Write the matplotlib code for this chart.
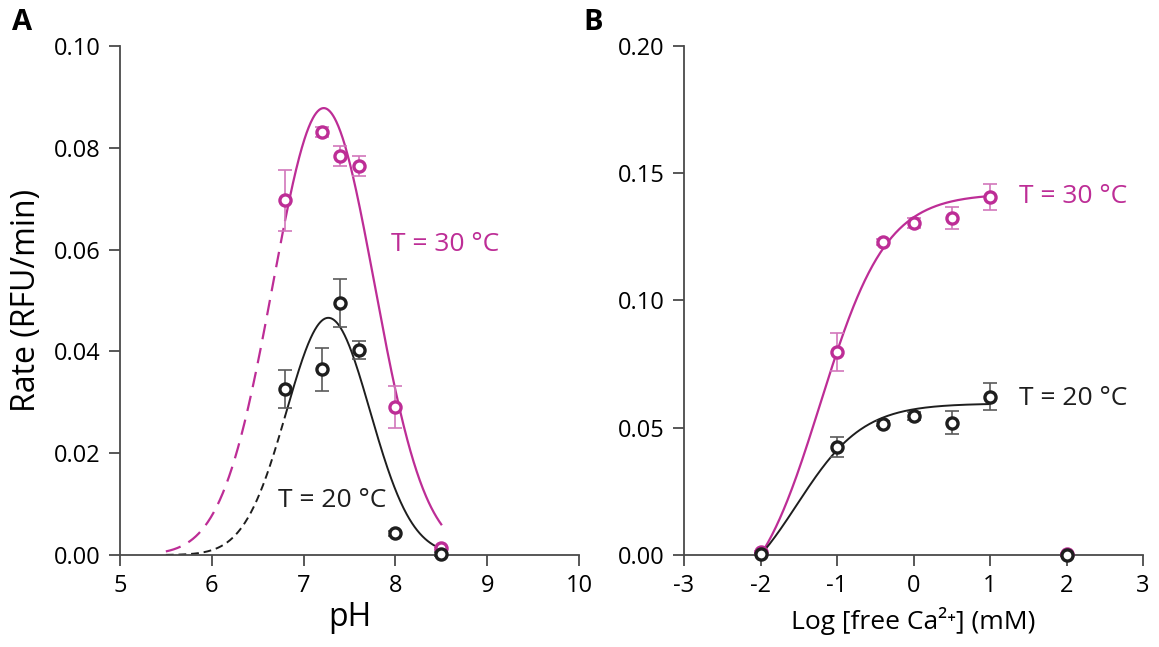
import numpy as np
import matplotlib.pyplot as plt

plt.rcParams['font.family'] = ['Open Sans', 'DejaVu Sans']
plt.rcParams['axes.unicode_minus'] = False

MAG = '#bd2d96'
MAG_ERR = '#d277bb'
BLK = '#1e1e1e'
BLK_ERR = '#5a5a5a'

# Panel A: rate vs pH
ph = [6.8, 7.2, 7.4, 7.6, 8.0, 8.5]
rate30_ph = [0.0697, 0.0831, 0.0784, 0.0764, 0.0291, 0.0013]
err30_ph = [0.0060, 0.0010, 0.0020, 0.0020, 0.0042, 0.0003]
rate20_ph = [0.0326, 0.0365, 0.0495, 0.0403, 0.0043, 0.0002]
err20_ph = [0.0037, 0.0042, 0.0047, 0.0017, 0.0005, 0.0003]

# gaussian fit parameters (amplitude, centre, width)
fit30_ph = (0.0878, 7.22, 0.553)
fit20_ph = (0.0466, 7.27, 0.455)
fit_ph_range = (5.5, 6.8, 8.5)  # dashed start, solid start, end

# Panel B: rate vs log [free Ca2+]
logca = [-2, -1, -0.4, 0, 0.5, 1, 2]
rate30_ca = [0.0010, 0.0798, 0.1230, 0.1304, 0.1324, 0.1407, 0.0005]
err30_ca = [0.0005, 0.0075, 0.0010, 0.0020, 0.0042, 0.0052, 0.0003]
rate20_ca = [0.0005, 0.0424, 0.0515, 0.0545, 0.0520, 0.0622, 0.0]
err20_ca = [0.0003, 0.0040, 0.0010, 0.0015, 0.0045, 0.0052, 0.0003]

# saturation fit parameters (vmax, K in mM), baseline at 10^-2 mM
fit30_ca = (0.1657, 0.06)
fit20_ca = (0.0794, 0.03)
fit_ca_range = (-2, 1)


def gauss(x, p):
    a, c, s = p
    return a * np.exp(-(x - c) ** 2 / (2 * s ** 2))


def sat(x, p):
    v, k = p
    c = 10.0 ** x
    c0 = 10.0 ** fit_ca_range[0]
    return v * (c / (k + c) - c0 / (k + c0))


def style_axes(ax):
    for s in ['top', 'right']:
        ax.spines[s].set_visible(False)
    for s in ['left', 'bottom']:
        ax.spines[s].set_color('#4a4a4a')
        ax.spines[s].set_linewidth(1.3)
    ax.tick_params(direction='out', length=8, width=1.3, color='#4a4a4a',
                   labelsize=17, pad=6)


def points(ax, x, y, e, col, ecol):
    ax.errorbar(x, y, yerr=e, fmt='none', ecolor=ecol, elinewidth=1.2,
                capsize=5, capthick=1.2, clip_on=False, zorder=3)
    ax.plot(x, y, 'o', ms=8, mfc='white', mec=col, mew=2.4,
            clip_on=False, zorder=4)


fig = plt.figure(figsize=(11.59, 6.47), dpi=100)
axA = fig.add_axes([0.1035, 0.1422, 0.396, 0.7867])
axB = fig.add_axes([0.5902, 0.1422, 0.396, 0.7867])

# ---- A ----
x0, x1, x2 = fit_ph_range
xd = np.linspace(x0, x1, 200)
xs = np.linspace(x1, x2, 300)
axA.plot(xd, gauss(xd, fit30_ph), color=MAG, lw=1.6, dashes=(7, 4))
axA.plot(xs, gauss(xs, fit30_ph), color=MAG, lw=1.6)
axA.plot(xd, gauss(xd, fit20_ph), color=BLK, lw=1.4, dashes=(4, 2.5))
axA.plot(xs, gauss(xs, fit20_ph), color=BLK, lw=1.4)
points(axA, ph, rate30_ph, err30_ph, MAG, MAG_ERR)
points(axA, ph, rate20_ph, err20_ph, BLK, BLK_ERR)

axA.set_xlim(5, 10)
axA.set_ylim(0, 0.10)
axA.set_xticks([5, 6, 7, 8, 9, 10])
axA.set_yticks(np.arange(0, 0.101, 0.02))
axA.set_yticklabels(['0.00', '0.02', '0.04', '0.06', '0.08', '0.10'])
style_axes(axA)
axA.set_xlabel('pH', fontsize=23, labelpad=2)
axA.set_ylabel('Rate (RFU/min)', fontsize=23, labelpad=8)
axA.text(7.95, 0.061, 'T = 30 °C', color=MAG, fontsize=19, va='center')
axA.text(6.72, 0.0108, 'T = 20 °C', color=BLK, fontsize=19, va='center')

# ---- B ----
xc = np.linspace(fit_ca_range[0], fit_ca_range[1], 300)
axB.plot(xc, sat(xc, fit30_ca), color=MAG, lw=1.6)
axB.plot(xc, sat(xc, fit20_ca), color=BLK, lw=1.4)
points(axB, logca, rate30_ca, err30_ca, MAG, MAG_ERR)
points(axB, logca, rate20_ca, err20_ca, BLK, BLK_ERR)

axB.set_xlim(-3, 3)
axB.set_ylim(0, 0.20)
axB.set_xticks([-3, -2, -1, 0, 1, 2, 3])
axB.set_yticks([0, 0.05, 0.10, 0.15, 0.20])
axB.set_yticklabels(['0.00', '0.05', '0.10', '0.15', '0.20'])
style_axes(axB)
axB.set_xlabel('Log [free Ca²⁺] (mM)', fontsize=19, labelpad=6)
axB.text(1.38, 0.141, 'T = 30 °C', color=MAG, fontsize=19, va='center')
axB.text(1.38, 0.0615, 'T = 20 °C', color=BLK, fontsize=19, va='center')

fig.text(0.010, 0.965, 'A', fontsize=21, fontweight='bold', va='center')
fig.text(0.503, 0.965, 'B', fontsize=21, fontweight='bold', va='center')

fig.savefig('out.png', dpi=100)
